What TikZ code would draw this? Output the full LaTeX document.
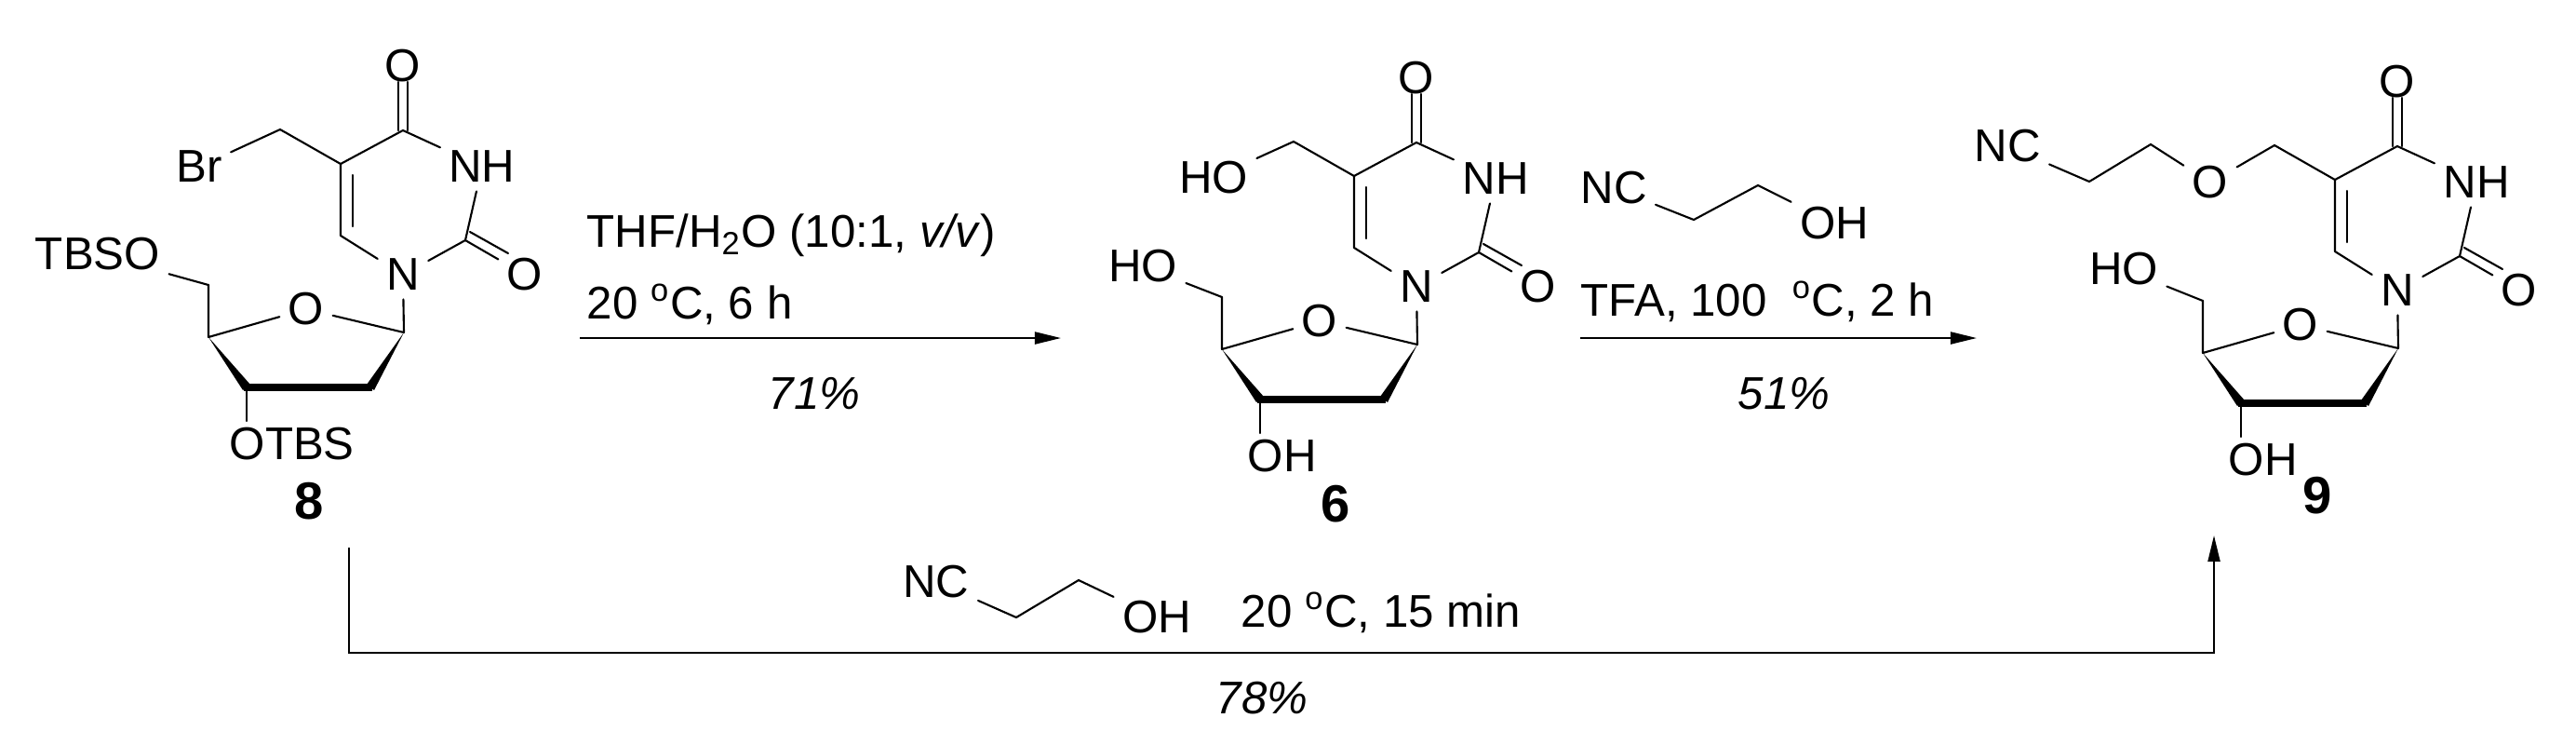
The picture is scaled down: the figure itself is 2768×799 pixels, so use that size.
\documentclass[tikz,border=0pt]{standalone}
\usepackage{fontspec}
\setmainfont{Liberation Sans}
\usetikzlibrary{arrows.meta,calc}
\newcommand\nucleocore{%
\coordinate (C4) at (433,140);
\node[atom] (O4) at (433,71) {O};
\node[atom] (N3) at (518,179) {NH};
\coordinate (C2) at (500,258);
\node[atom] (O2) at (564,295) {O};
\node[atom] (N1) at (433,295) {N};
\coordinate (C6) at (366,253);
\coordinate (C5) at (366,176);
\coordinate (C7) at (301,139);
\coordinate (C1s) at (434,357);
\node[atom] (O4s) at (329,332) {O};
\coordinate (C4s) at (224,362);
\coordinate (C3s) at (265,416);
\coordinate (C2s) at (398,416);
\coordinate (C5s) at (224,306);
\coordinate (O3b) at (265,452);
\draw[bond] (428,140) -- (428,88) (438,140) -- (438,88);
\draw[bond] (C4) -- (N3) -- (C2) -- (N1) -- (C6) -- (C5) -- (C4);
\draw[bond] (C2) -- (O2);
\draw[bond] (505,249) -- (546,272);
\draw[bond] (379,188) -- (379,243);
\draw[bond] (C5) -- (C7);
\draw[bond] (N1) -- (C1s) -- (O4s) -- (C4s) -- (C5s);
\fill (224,362) -- (269,413) -- (261,419) -- cycle;
\draw[line width=0.075cm] (262,416) -- (400,416);
\fill (434,357) -- (402,419) -- (394,413) -- cycle;
\draw[bond] (C3s) -- (O3b);
}
\begin{document}
\begin{tikzpicture}[x=0.01cm,y=-0.01cm,
  atom/.style={font=\fontsize{14}{16}\selectfont, inner sep=2.5pt},
  bond/.style={line width=0.6pt, line cap=round, line join=round},
  txt/.style={font=\fontsize{14}{16}\selectfont, inner sep=0pt},
  cpd/.style={font=\fontsize{16}{18}\selectfont\bfseries, inner sep=0pt},
  rxn/.style={line width=0.6pt, -{Triangle[length=0.28cm,width=0.13cm]}},
  ]
\useasboundingbox (0,0) rectangle (2768,799);
% ---- compound 8
\begin{scope}
\nucleocore
\node[atom] (Br) at (214,179) {Br};
\draw[bond] (C7) -- (Br);
\node[atom] (TBSO) at (105,273) {TBSO};
\draw[bond] (C5s) -- (TBSO);
\node[txt, anchor=north west] (OTBS) at (246,458) {OTBS};
\node[cpd] (n8) at (332,538) {8};
\end{scope}
% ---- compound 6
\begin{scope}[shift={(1089,13)}]
\nucleocore
\node[atom] (HOa) at (215,178) {HO};
\draw[bond] (C7) -- (HOa);
\node[atom] (HOb) at (139,273) {HO};
\draw[bond] (C5s) -- (HOb);
\node[txt, anchor=north west] (OH6) at (251,458) {OH};
\node[cpd] (n6) at (346,528) {6};
\end{scope}
% ---- compound 9
\begin{scope}[shift={(2143,17)}]
\nucleocore
\node[atom] (Oe) at (232,179) {O};
\coordinate (C8) at (168,138);
\coordinate (C9) at (102,178);
\node[atom] (NC9) at (14,140) {NC};
\draw[bond] (C7) -- (Oe) -- (C8) -- (C9) -- (NC9);
\node[atom] (HOc) at (139,272) {HO};
\draw[bond] (C5s) -- (HOc);
\node[txt, anchor=north west] (OH9) at (251,458) {OH};
\node[cpd] (n9) at (347,515) {9};
\end{scope}
% ---- arrow 1
\coordinate (a1s) at (623,363);
\coordinate (a1e) at (1140,363);
\draw[rxn] (a1s) -- (a1e);
\node[txt, anchor=west] (t1) at (630,253) {THF/H\textsubscript{2}O (10:1, \textit{v/v})};
\node[txt, anchor=west] (t2) at (630,327) {20 \textsuperscript{o}C, 6 h};
\node[txt] (y1) at (875,423) {\textit{71\%}};
% ---- arrow 2
\coordinate (a2s) at (1698,363);
\coordinate (a2e) at (2124,363);
\draw[rxn] (a2s) -- (a2e);
\node[atom] (NCr) at (1734,202) {NC};
\coordinate (r1) at (1820,236);
\coordinate (r2) at (1889,199);
\node[atom] (OHr) at (1971,240) {OH};
\draw[bond] (NCr) -- (r1) -- (r2) -- (OHr);
\node[txt, anchor=west] (t3) at (1698,324) {TFA, 100\ \ \textsuperscript{o}C, 2 h};
\node[txt] (y2) at (1917,423) {\textit{51\%}};
% ---- bottom arrow
\coordinate (b1) at (375,588);
\coordinate (b2) at (375,701);
\coordinate (b3) at (2379,701);
\coordinate (b4) at (2379,575);
\draw[rxn] (b1) -- (b2) -- (b3) -- (b4);
\node[atom] (NCb) at (1006,625) {NC};
\coordinate (s1) at (1092,663);
\coordinate (s2) at (1159,623);
\node[atom] (OHb) at (1243,663) {OH};
\draw[bond] (NCb) -- (s1) -- (s2) -- (OHb);
\node[txt] (t4) at (1484,658) {20 \textsuperscript{o}C, 15 min};
\node[txt] (y3) at (1356,750) {\textit{78\%}};
\end{tikzpicture}
\end{document}
